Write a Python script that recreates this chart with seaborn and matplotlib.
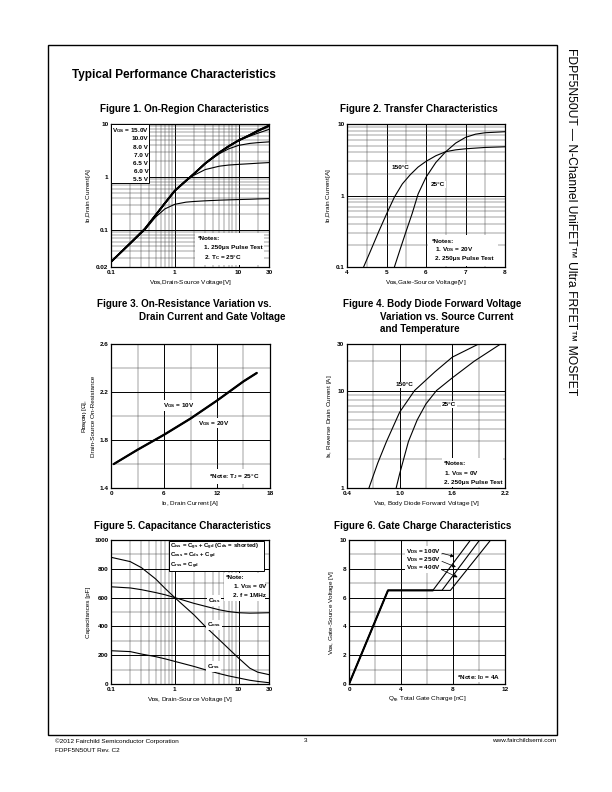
import numpy as np
import pandas as pd
import matplotlib
matplotlib.use("Agg")
import matplotlib.pyplot as plt
import seaborn as sns
from matplotlib.patches import Rectangle
from matplotlib.ticker import FixedLocator, FixedFormatter, MultipleLocator, LogLocator, NullFormatter

# ---- data ----
# Figure 1: on-region characteristics (log-log)
vds_on = [0.1, 0.2, 0.34, 0.5, 0.7, 1, 1.5, 2, 3, 5, 7, 10, 15, 20, 30]
id_15v = [0.025, 0.056, 0.105, 0.19, 0.32, 0.55, 0.85, 1.15, 1.8, 2.9, 3.8, 4.9, 6.2, 7.5, 9.4]
id_10v = [0.025, 0.056, 0.105, 0.19, 0.32, 0.55, 0.85, 1.15, 1.8, 2.9, 3.8, 4.9, 6.2, 7.45, 9.3]
id_8v = [0.025, 0.056, 0.105, 0.19, 0.32, 0.55, 0.85, 1.15, 1.8, 2.9, 3.8, 4.9, 6.15, 7.35, 9.1]
id_7v = [0.025, 0.056, 0.105, 0.19, 0.32, 0.55, 0.85, 1.15, 1.8, 2.9, 3.8, 4.85, 5.9, 6.7, 7.9]
id_65v = [0.025, 0.056, 0.105, 0.19, 0.32, 0.55, 0.85, 1.15, 1.8, 2.75, 3.4, 3.95, 4.3, 4.45, 4.6]
id_6v = [0.025, 0.056, 0.105, 0.19, 0.32, 0.55, 0.85, 1.08, 1.38, 1.6, 1.68, 1.73, 1.78, 1.82, 1.87]
id_55v = [0.025, 0.056, 0.1, 0.175, 0.25, 0.305, 0.335, 0.345, 0.355, 0.365, 0.37, 0.375, 0.38, 0.385, 0.39]
vgs_legend = ["15.0V", "10.0V", "8.0 V", "7.0 V", "6.5 V", "6.0 V", "5.5 V"]

# Figure 2: transfer characteristics
vgs_150 = [4.42, 4.6, 4.8, 5.0, 5.2, 5.4, 5.6, 5.8, 6.0, 6.25, 6.5, 6.75, 7.0, 7.5, 8.0]
id_150 = [0.1, 0.17, 0.31, 0.55, 0.95, 1.45, 1.95, 2.5, 3.0, 3.6, 4.1, 4.35, 4.5, 4.7, 4.8]
vgs_25 = [5.2, 5.35, 5.5, 5.65, 5.8, 6.0, 6.25, 6.5, 6.75, 7.0, 7.25, 7.5, 8.0]
id_25 = [0.1, 0.18, 0.32, 0.56, 1.05, 1.8, 2.9, 4.1, 5.4, 6.5, 7.2, 7.55, 7.8]

# Figure 3: on-resistance vs drain current
id_ron = [0.3, 3, 6, 9, 12, 15, 16.5]
ron_10v = [1.60, 1.72, 1.845, 1.98, 2.13, 2.29, 2.36]
ron_20v = [1.598, 1.717, 1.842, 1.977, 2.127, 2.287, 2.357]

# Figure 4: body diode forward voltage
vsd_150 = [0.65, 0.75, 0.85, 1.0, 1.17, 1.4, 1.6, 1.9]
is_150 = [1.0, 1.8, 3.0, 6.0, 10, 15.5, 22, 30]
vsd_25 = [0.96, 1.0, 1.1, 1.2, 1.3, 1.42, 1.6, 1.85, 2.15]
is_25 = [1.0, 1.4, 3.0, 5.0, 7.3, 10, 13.5, 20, 30]

# Figure 5: capacitance characteristics
vds_cap = [0.1, 0.2, 0.3, 0.5, 0.7, 1, 2, 3, 5, 7, 10, 15, 20, 30]
c_iss = [675, 667, 655, 635, 620, 600, 560, 540, 515, 503, 495, 492, 493, 495]
c_oss = [880, 850, 808, 730, 665, 600, 480, 400, 307, 245, 180, 110, 82, 65]
c_rss = [231, 225, 208, 190, 175, 157, 122, 99, 72, 56, 42, 26, 18, 9]

# Figure 6: gate charge
qg_100 = [0, 3.0, 6.45, 9.35]
qg_250 = [0, 3.0, 7.15, 10.05]
qg_400 = [0, 3.0, 7.8, 10.9]
vgs_qg = [0, 6.5, 6.5, 10]
vds_qg = ["100V", "250V", "400V"]

# ---- style ----
sns.set_theme(style="white")
plt.rcParams['font.family'] = ['Liberation Sans', 'DejaVu Sans']
plt.rcParams.update({
    'font.weight': 'bold',
    'mathtext.fontset': 'custom',
    'mathtext.rm': 'Liberation Sans:bold',
    'mathtext.bf': 'Liberation Sans:bold',
    'mathtext.it': 'Liberation Sans:bold',
    'mathtext.default': 'rm',
    'text.color': 'black',
    'axes.labelcolor': 'black',
    'xtick.color': 'black',
    'ytick.color': 'black',
    'axes.edgecolor': 'black',
})

W, H = 612, 792
fig = plt.figure(figsize=(6.12, 7.92), dpi=100)
FS = 4.6


def box(x0, y0, x1, y1):
    return [x0 / W, 1 - y1 / H, (x1 - x0) / W, (y1 - y0) / H]


def style(ax):
    for s in ax.spines.values():
        s.set_visible(True)
        s.set_color('black')
        s.set_linewidth(0.9)
    ax.grid(True, which='major', color='black', lw=0.7)
    ax.grid(True, which='minor', color='#444444', lw=0.35)
    ax.tick_params(which='both', length=0, pad=2, labelsize=FS, colors='black')
    ax.xaxis.set_minor_formatter(NullFormatter())
    ax.yaxis.set_minor_formatter(NullFormatter())


def draw(ax, x, y, lw=0.8):
    sns.lineplot(x=x, y=y, ax=ax, color='black', lw=lw, estimator=None,
                 sort=False, legend=False)


def whitebox(ax, x, y, w, h, edge='none'):
    ax.add_patch(Rectangle((x, y), w, h, transform=ax.transAxes, fc='white',
                           ec=edge, lw=0.7, zorder=2.6))


def note(ax, x, y, s, ha='left', fs=FS):
    ax.text(x, y, s, transform=ax.transAxes, fontsize=fs, ha=ha, va='center', zorder=3)


def title(x, y, s, ha='center'):
    fig.text(x / W, 1 - y / H, s, fontsize=7.1, ha=ha, va='center')


def logticks(axis, ticks):
    axis.set_major_locator(FixedLocator(ticks))
    axis.set_major_formatter(FixedFormatter([f"{t:g}" for t in ticks]))
    axis.set_minor_locator(LogLocator(base=10, subs=np.arange(2, 10), numticks=20))


# page frame and header
fig.add_artist(Rectangle((48 / W, 1 - 735 / H), (557 - 48) / W, (735 - 45) / H,
                         transform=fig.transFigure, fill=False, ec='black', lw=1.0))
fig.text(72 / W, 1 - 75 / H, "Typical Performance Characteristics", fontsize=8.5,
         ha='left', va='center')
fig.text(571 / W, 1 - 48 / H, "FDPF5N50UT — N-Channel UniFET™ Ultra FRFET™ MOSFET",
         fontsize=8.7, fontweight='normal', rotation=-90, ha='center', va='top')
fig.text(55 / W, 1 - 741 / H, "©2012 Fairchild Semiconductor Corporation", fontsize=4.6,
         fontweight='normal', ha='left', va='center')
fig.text(55 / W, 1 - 750 / H, "FDPF5N50UT Rev. C2", fontsize=4.6, fontweight='normal',
         ha='left', va='center')
fig.text(306 / W, 1 - 741 / H, "3", fontsize=4.6, fontweight='normal', ha='center', va='center')
fig.text(556 / W, 1 - 741 / H, "www.fairchildsemi.com", fontsize=4.6, fontweight='normal',
         ha='right', va='center')

# ---- Figure 1 ----
title(184, 109, "Figure 1. On-Region Characteristics")
ax1 = fig.add_axes(box(111, 124, 269, 267))
for ids, lw in [(id_15v, 1.3), (id_10v, 1.3), (id_8v, 1.3), (id_7v, 0.8),
                (id_65v, 0.8), (id_6v, 0.8), (id_55v, 0.8)]:
    draw(ax1, vds_on, ids, lw)
ax1.set_xscale('log')
ax1.set_yscale('log')
ax1.set_xlim(0.1, 30)
ax1.set_ylim(0.02, 10)
logticks(ax1.xaxis, [0.1, 1, 10, 30])
logticks(ax1.yaxis, [0.02, 0.1, 1, 10])
style(ax1)
ax1.set_xlabel("V$_{DS}$,Drain-Source Voltage[V]", fontsize=FS, labelpad=2)
ax1.set_ylabel("I$_D$,Drain Current[A]", fontsize=FS, labelpad=2)
whitebox(ax1, 0.0, 0.586, 0.242, 0.414, edge='black')
for i, lab in enumerate(vgs_legend):
    txt = "V$_{GS}$ = " + lab if i == 0 else lab
    note(ax1, 0.236, 0.953 - i * 0.057, txt, ha='right')
whitebox(ax1, 0.53, 0.015, 0.44, 0.225)
note(ax1, 0.55, 0.196, "*Notes:")
note(ax1, 0.59, 0.133, "1. 250μs Pulse Test")
note(ax1, 0.59, 0.063, "2. T$_C$ = 25°C")

# ---- Figure 2 ----
title(419, 109, "Figure 2. Transfer Characteristics")
ax2 = fig.add_axes(box(347, 124, 505, 267))
draw(ax2, vgs_150, id_150)
draw(ax2, vgs_25, id_25)
ax2.set_yscale('log')
ax2.set_xlim(4, 8)
ax2.set_ylim(0.1, 10)
ax2.xaxis.set_major_locator(MultipleLocator(1))
ax2.xaxis.set_minor_locator(MultipleLocator(0.5))
logticks(ax2.yaxis, [0.1, 1, 10])
style(ax2)
ax2.set_xlabel("V$_{GS}$,Gate-Source Voltage[V]", fontsize=FS, labelpad=2)
ax2.set_ylabel("I$_D$,Drain Current[A]", fontsize=FS, labelpad=2)
ax2.text(5.12, 2.5, "150°C", fontsize=FS, ha='left', va='center', zorder=3,
         bbox=dict(fc='white', ec='none', pad=0.6))
ax2.text(6.12, 1.44, "25°C", fontsize=FS, ha='left', va='center', zorder=3,
         bbox=dict(fc='white', ec='none', pad=0.6))
whitebox(ax2, 0.515, 0.008, 0.44, 0.215)
note(ax2, 0.535, 0.18, "*Notes:")
note(ax2, 0.56, 0.123, "1. V$_{DS}$ = 20V")
note(ax2, 0.56, 0.057, "2. 250μs Pulse Test")

# ---- Figure 3 ----
title(97, 304, "Figure 3. On-Resistance Variation vs.", ha='left')
title(139, 317, "Drain Current and Gate Voltage", ha='left')
ax3 = fig.add_axes(box(111, 344, 270, 488))
draw(ax3, id_ron, ron_10v, 1.4)
draw(ax3, id_ron, ron_20v, 1.4)
ax3.set_xlim(0, 18)
ax3.set_ylim(1.4, 2.6)
ax3.xaxis.set_major_locator(MultipleLocator(6))
ax3.xaxis.set_minor_locator(MultipleLocator(3))
ax3.yaxis.set_major_locator(FixedLocator([1.4, 1.8, 2.2, 2.6]))
ax3.yaxis.set_minor_locator(FixedLocator([1.6, 2.0, 2.4]))
style(ax3)
ax3.set_xlabel("I$_D$, Drain Current [A]", fontsize=FS, labelpad=2)
ax3.set_ylabel("R$_{DS(ON)}$ [Ω],\nDrain-Source On-Resistance", fontsize=FS, labelpad=2)
ax3.text(5.9, 2.086, "V$_{GS}$ = 10V", fontsize=FS, ha='left', va='center', zorder=3,
         bbox=dict(fc='white', ec='none', pad=0.6))
ax3.text(9.8, 1.94, "V$_{GS}$ = 20V", fontsize=FS, ha='left', va='center', zorder=3,
         bbox=dict(fc='white', ec='none', pad=0.6))
whitebox(ax3, 0.6, 0.03, 0.38, 0.1)
note(ax3, 0.617, 0.08, "*Note: T$_J$ = 25°C")

# ---- Figure 4 ----
title(343, 304, "Figure 4. Body Diode Forward Voltage", ha='left')
title(380, 317, "Variation vs. Source Current", ha='left')
title(380, 329, "and Temperature", ha='left')
ax4 = fig.add_axes(box(347, 344, 505, 488))
draw(ax4, vsd_150, is_150)
draw(ax4, vsd_25, is_25)
ax4.set_yscale('log')
ax4.set_xlim(0.4, 2.2)
ax4.set_ylim(1, 30)
ax4.xaxis.set_major_locator(FixedLocator([0.4, 1.0, 1.6, 2.2]))
ax4.xaxis.set_major_formatter(FixedFormatter(["0.4", "1.0", "1.6", "2.2"]))
ax4.xaxis.set_minor_locator(FixedLocator([0.7, 1.3, 1.9]))
logticks(ax4.yaxis, [1, 10, 30])
style(ax4)
ax4.set_xlabel("V$_{SD}$, Body Diode Forward Voltage [V]", fontsize=FS, labelpad=2)
ax4.set_ylabel("I$_S$, Reverse Drain Current [A]", fontsize=FS, labelpad=2)
ax4.text(0.955, 11.4, "150°C", fontsize=FS, ha='left', va='center', zorder=3,
         bbox=dict(fc='white', ec='none', pad=0.6))
ax4.text(1.48, 7.2, "25°C", fontsize=FS, ha='left', va='center', zorder=3,
         bbox=dict(fc='white', ec='none', pad=0.6))
whitebox(ax4, 0.6, 0.01, 0.39, 0.2)
note(ax4, 0.613, 0.17, "*Notes:")
note(ax4, 0.613, 0.10, "1. V$_{GS}$ = 0V")
note(ax4, 0.613, 0.035, "2. 250μs Pulse Test")

# ---- Figure 5 ----
title(183, 526, "Figure 5. Capacitance Characteristics")
ax5 = fig.add_axes(box(111, 540, 269, 684))
cap = pd.DataFrame({"vds": vds_cap * 3, "c": c_iss + c_oss + c_rss,
                    "kind": ["iss"] * len(vds_cap) + ["oss"] * len(vds_cap) + ["rss"] * len(vds_cap)})
sns.lineplot(data=cap, x="vds", y="c", units="kind", estimator=None, color='black',
             lw=0.8, ax=ax5, legend=False)
ax5.set_xscale('log')
ax5.set_xlim(0.1, 30)
ax5.set_ylim(0, 1000)
logticks(ax5.xaxis, [0.1, 1, 10, 30])
ax5.yaxis.set_major_locator(MultipleLocator(200))
ax5.yaxis.set_minor_locator(MultipleLocator(100))
style(ax5)
ax5.set_xlabel("V$_{DS}$, Drain-Source Voltage [V]", fontsize=FS, labelpad=2)
ax5.set_ylabel("Capacitances [pF]", fontsize=FS, labelpad=2)
whitebox(ax5, 0.364, 0.785, 0.604, 0.205, edge='black')
note(ax5, 0.375, 0.955, "C$_{iss}$ = C$_{gs}$ + C$_{gd}$ (C$_{ds}$ = shorted)", fs=4.3)
note(ax5, 0.375, 0.887, "C$_{oss}$ = C$_{ds}$ + C$_{gd}$", fs=4.3)
note(ax5, 0.375, 0.82, "C$_{rss}$ = C$_{gd}$", fs=4.3)
whitebox(ax5, 0.716, 0.573, 0.26, 0.195)
note(ax5, 0.73, 0.74, "*Note:")
note(ax5, 0.77, 0.68, "1. V$_{GS}$ = 0V")
note(ax5, 0.77, 0.615, "2. f = 1MHz")
for lab, yv in [("C$_{iss}$", 580), ("C$_{oss}$", 411), ("C$_{rss}$", 122)]:
    ax5.text(4.1, yv, lab, fontsize=FS, ha='center', va='center', zorder=3,
             bbox=dict(fc='white', ec='none', pad=0.6))

# ---- Figure 6 ----
title(423, 526, "Figure 6. Gate Charge Characteristics")
ax6 = fig.add_axes(box(349, 540, 505, 684))
draw(ax6, qg_100[:3], vgs_qg[:3], 1.5)
for qg in [qg_100, qg_250, qg_400]:
    draw(ax6, qg, vgs_qg, 0.8)
ax6.set_xlim(0, 12)
ax6.set_ylim(0, 10)
ax6.xaxis.set_major_locator(MultipleLocator(4))
ax6.xaxis.set_minor_locator(MultipleLocator(2))
ax6.yaxis.set_major_locator(MultipleLocator(2))
ax6.yaxis.set_minor_locator(MultipleLocator(1))
style(ax6)
ax6.set_xlabel("Q$_g$, Total Gate Charge [nC]", fontsize=FS, labelpad=2)
ax6.set_ylabel("V$_{GS}$, Gate-Source Voltage [V]", fontsize=FS, labelpad=2)
label_y = [9.21, 8.67, 8.09]
tips = [(8.3, 8.8), (8.42, 8.05), (8.55, 7.33)]
for lab, yl, tip in zip(vds_qg, label_y, tips):
    ax6.text(4.36, yl, "V$_{DS}$ = " + lab, fontsize=FS, ha='left', va='center', zorder=3,
             bbox=dict(fc='white', ec='none', pad=0.5))
    ax6.annotate("", xy=tip, xytext=(6.95, yl - 0.08),
                 arrowprops=dict(arrowstyle='-|>', lw=0.5, color='black', mutation_scale=5))
whitebox(ax6, 0.675, 0.012, 0.315, 0.08)
note(ax6, 0.692, 0.047, "*Note: I$_D$ = 4A")

fig.savefig("out.png", dpi=100)
